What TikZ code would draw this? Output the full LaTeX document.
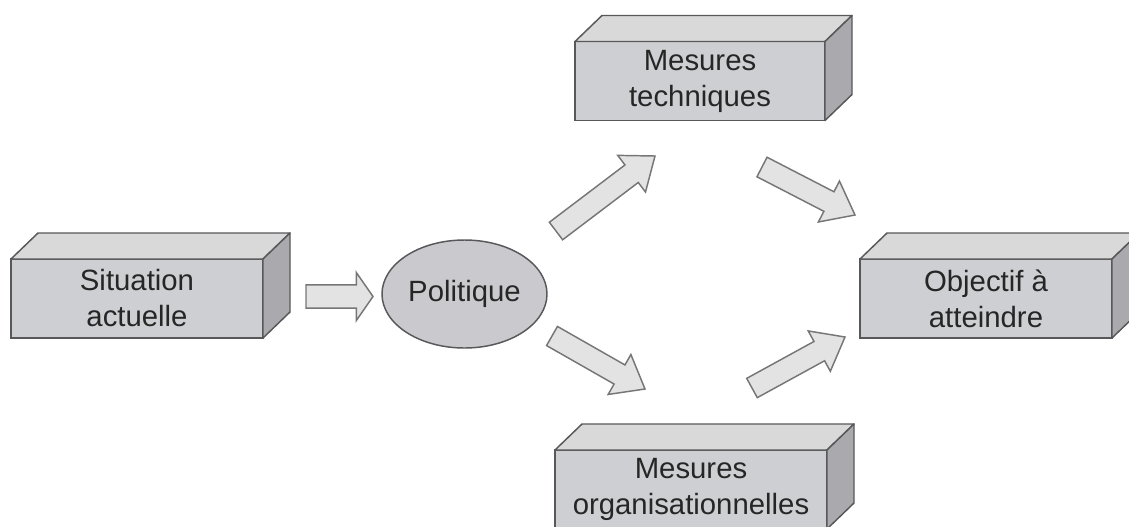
\documentclass[tikz,border=0pt]{standalone}
\usepackage{fontspec}
\setmainfont{Liberation Sans}
\usetikzlibrary{calc,shapes.geometric}
\definecolor{frontc}{RGB}{206,207,210}
\definecolor{topc}{RGB}{217,217,218}
\definecolor{sidec}{RGB}{170,170,174}
\definecolor{edgec}{RGB}{88,88,90}
\definecolor{ellc}{RGB}{202,202,206}
\definecolor{arrfill}{RGB}{227,227,227}
\definecolor{arredge}{RGB}{118,118,118}
\definecolor{txtc}{RGB}{38,38,38}
\tikzset{
  front/.style={draw=edgec, fill=frontc, line width=1.1pt, inner sep=0pt, outer sep=0pt,
    minimum height=59.25pt, align=center, text=txtc,
    font=\fontsize{22}{27}\selectfont},
  topface/.style={draw=edgec, fill=topc, line width=1.1pt, line join=round},
  sideface/.style={draw=edgec, fill=sidec, line width=1.1pt, line join=round},
  blockarr/.style={draw=arredge, fill=arrfill, line width=1.1pt, line join=miter},
  pol/.style={ellipse, draw=edgec, fill=ellc, line width=1.1pt, inner sep=0pt,
    minimum width=123.75pt, minimum height=81pt, text=txtc,
    font=\fontsize{22}{27}\selectfont}
}
\newcommand\boxfaces[1]{%
  \draw[topface] (#1.north west) -- ++(27,-26) -- ($(#1.north east)+(27,-26)$) -- (#1.north east) -- cycle;
  \draw[sideface] (#1.north east) -- ++(27,-26) -- ($(#1.south east)+(27,-26)$) -- (#1.south east) -- cycle;
}
% tail, tip, body half width, head half width, head length
\newcommand\blockarrow[5]{%
  \draw[blockarr] ($(#1)!#3!90:(#2)$)
    -- ($(#2)!#5!(#1)!#3!90:(#2)$)
    -- ($(#2)!#5!(#1)!#4!90:(#2)$)
    -- (#2)
    -- ($(#2)!#5!(#1)!#4!-90:(#2)$)
    -- ($(#2)!#5!(#1)!#3!-90:(#2)$)
    -- ($(#1)!#3!-90:(#2)$) -- cycle;
}
\begin{document}
\begin{tikzpicture}[x=0.75pt,y=-0.75pt]
\path[use as bounding box] (0,0) rectangle (1129,526);
\clip (0,0) rectangle (1129,526);
% boxes
\node[front, minimum width=189pt] (sit) at (137,298.5) {Situation\\actuelle};
\node[front, minimum width=187.5pt] (tech) at (700,81) {Mesures\\techniques};
\node[front, minimum width=204pt] (org) at (691,489.5) {Mesures\\organisationnelles};
\node[front, minimum width=189pt] (obj) at (986,298.5) {Objectif à\\atteindre};
\boxfaces{sit}
\boxfaces{tech}
\boxfaces{org}
\boxfaces{obj}
% ellipse
\node[pol] (pol) at (464.5,294) {Politique};
% arrow end points
\coordinate (a0t) at (306,296.5);
\coordinate (a0h) at (373,296.5);
\coordinate (a1t) at (556,231);
\coordinate (a1h) at (655,156);
\coordinate (a2t) at (762,167);
\coordinate (a2h) at (855,215);
\coordinate (a3t) at (552,336);
\coordinate (a3h) at (645,389);
\coordinate (a4t) at (752,388);
\coordinate (a4h) at (845,337);
\blockarrow{a0t}{a0h}{8.75pt}{18pt}{12.5pt}
\blockarrow{a1t}{a1h}{8.25pt}{17.25pt}{22pt}
\blockarrow{a2t}{a2h}{8.25pt}{17.25pt}{22pt}
\blockarrow{a3t}{a3h}{8.25pt}{17.25pt}{22pt}
\blockarrow{a4t}{a4h}{8.25pt}{17.25pt}{22pt}
\end{tikzpicture}
\end{document}
